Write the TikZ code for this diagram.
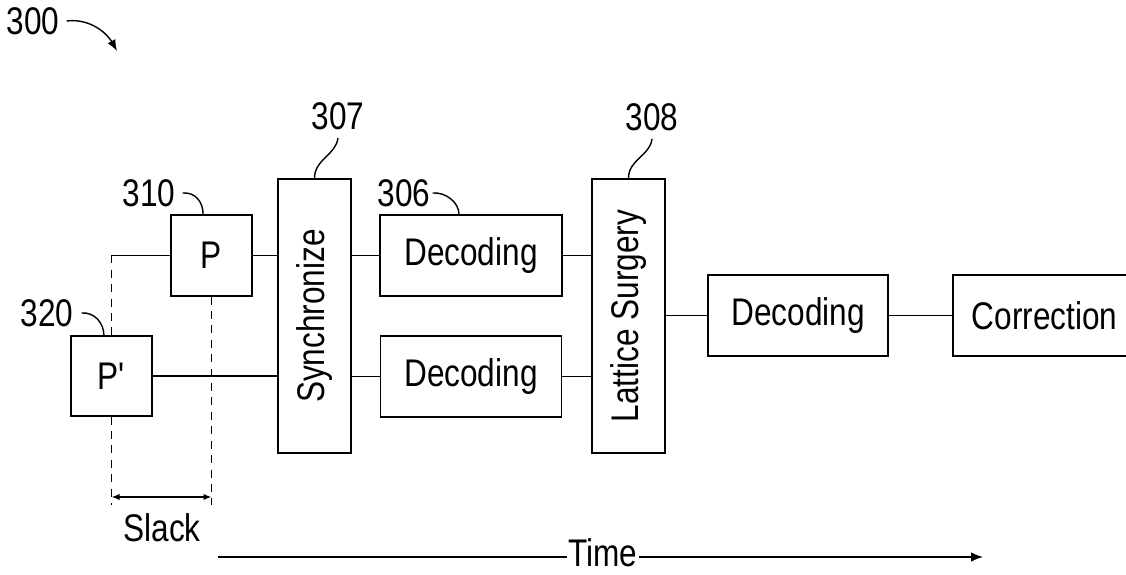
\documentclass[tikz,border=0pt]{standalone}
\usepackage{fontspec}
\setsansfont{Liberation Sans}[FakeStretch=0.82]
\usetikzlibrary{arrows.meta,positioning}

\begin{document}
\begin{tikzpicture}[
 x=0.25mm,y=0.25mm,font=\sffamily\fontsize{27.4}{30}\selectfont,
 block/.style={draw=black,line width=1pt,fill=white,inner sep=0pt,align=center},
 wire/.style={line width=1pt},
 guide/.style={line width=1pt,dash pattern=on 2mm off 1.6mm},
 lead/.style={line width=1pt},
 ref/.style={inner sep=0pt},
 dim/.style={{Latex[length=2mm,width=1.6mm]}-{Latex[length=2mm,width=1.6mm]},line width=1pt},
 flow/.style={-{Latex[length=3mm,width=2.4mm]},line width=1pt}
]
\useasboundingbox (0,0) rectangle (1126,575);

% Blocks.
\node[block,minimum width=20.25mm,minimum height=20mm] (pp) at (111.5,199) {P\textquotesingle};
\node[block,minimum width=20.25mm,minimum height=20.25mm] (p) at (211.5,319.5) {P};
\node[block,rotate=90,minimum width=68.5mm,minimum height=18.25mm] (sync) at (314.5,259) {Synchronize};
\node[block,minimum width=45.5mm,minimum height=20.25mm] (dec1) at (471,319.5) {Decoding};
\node[block,minimum width=45.25mm,minimum height=20.25mm] (dec2) at (471,198.5) {Decoding};
\node[block,rotate=90,minimum width=68.5mm,minimum height=18.25mm] (lat) at (628.5,259) {Lattice Surgery};
\node[block,minimum width=45mm,minimum height=20.25mm] (dec3) at (798,259.5) {Decoding};
\node[block,minimum width=45.75mm,minimum height=20.25mm] (corr) at (1044.5,259.5) {Correction};

% Wires between the blocks (sync and lat are turned: north is their left side).
\coordinate (split) at (pp.north |- p.west);
\draw[wire] (split) -- (p.west);
\draw[wire] (p.east) -- (p.east -| sync.north);
\draw[wire] (pp.east) -- (pp.east -| sync.north);
\draw[wire] (sync.south |- dec1.west) -- (dec1.west);
\draw[wire] (sync.south |- dec2.west) -- (dec2.west);
\draw[wire] (dec1.east) -- (dec1.east -| lat.north);
\draw[wire] (dec2.east) -- (dec2.east -| lat.north);
\draw[wire] (lat.south |- dec3.west) -- (dec3.west);
\draw[wire] (dec3.east) -- (corr.west);

% Slack between P' and P.
\coordinate (gl) at (pp.south |- 0,70);
\coordinate (gr) at (p.south |- 0,70);
\draw[guide] (split) -- (pp.north);
\draw[guide] (pp.south) -- (gl);
\draw[guide] (p.south) -- (gr);
\draw[dim] ([yshift=2mm]gl) -- ([yshift=2mm]gr);
\node (slack) at (162,47) {Slack};

% Time axis.
\coordinate (t0) at (218,18);
\coordinate (t1) at (983,18);
\node[inner sep=1pt] (time) at (603,22) {Time};
\draw[wire] (t0) -- (time.west |- t0);
\draw[flow] (time.east |- t1) -- (t1);

% Reference numerals.
\node[ref] (l300) at (33,554) {300};
\draw[flow,-{Latex[length=2.8mm,width=2.2mm]}] ([xshift=1.75mm]l300.east) .. controls +(25,3) and +(-9,16) .. (117,524);
\node[ref] (l310) at (149,382) {310};
\draw[lead] ([xshift=1.75mm]l310.east) .. controls +(13,1) and +(0,12) .. ([xshift=-2.1mm]p.north);
\node[ref] (l320) at (47,262) {320};
\draw[lead] ([xshift=2mm]l320.east) .. controls +(13,1) and +(0,12) .. ([xshift=-1.9mm]pp.north);
\node[ref] (l307) at (338,459) {307};
\draw[lead] ([yshift=-2mm]l307.south) .. controls +(-2,-17) and +(0,19) .. (sync.east);
\node[ref] (l306) at (404,382) {306};
\draw[lead] ([xshift=0.5mm]l306.east) .. controls +(13,1) and +(0,12) .. ([xshift=-3mm]dec1.north);
\node[ref] (l308) at (652,458) {308};
\draw[lead] ([yshift=-2mm]l308.south) .. controls +(-2,-17) and +(0,19) .. (lat.east);
\end{tikzpicture}
\end{document}
